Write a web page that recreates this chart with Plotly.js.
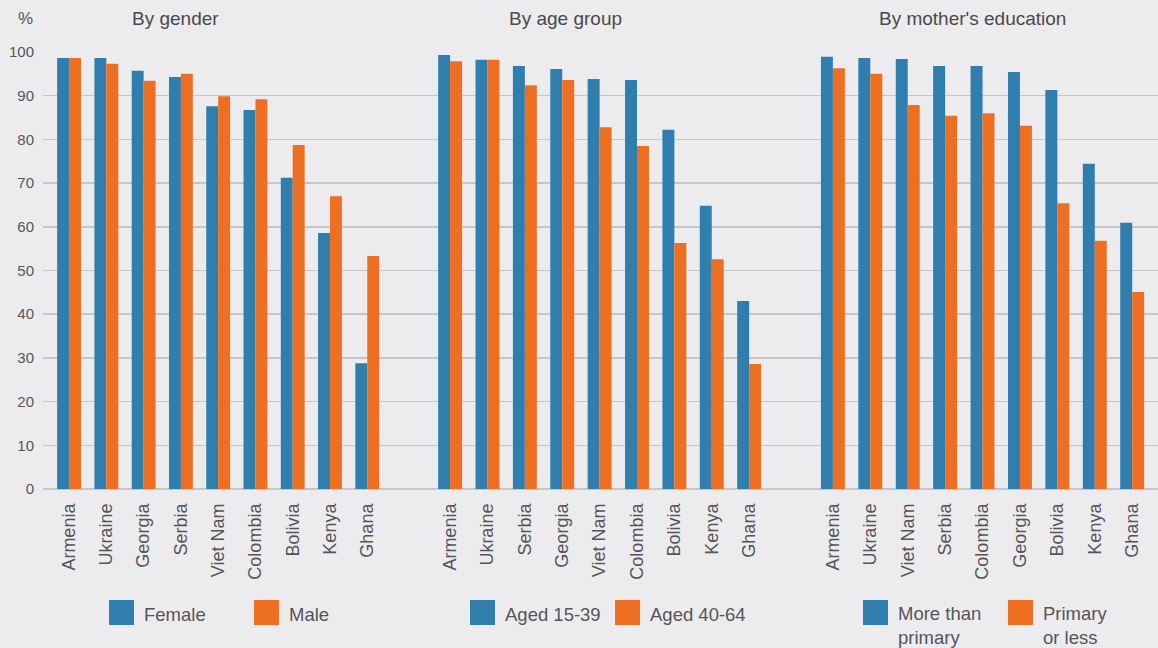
<!DOCTYPE html>
<html>
<head>
<meta charset="utf-8">
<script src="https://cdn.plot.ly/plotly-3.0.1.min.js"></script>
<style>html,body{margin:0;padding:0;background:#ececee;}#chart{width:1158px;height:648px;}</style>
</head>
<body>
<div id="chart"></div>
<script>
// ---- Data ----
const genderCountries = ["Armenia","Ukraine","Georgia","Serbia","Viet Nam","Colombia","Bolivia","Kenya","Ghana"];
const female = [98.6, 98.6, 95.7, 94.3, 87.6, 86.7, 71.2, 58.6, 28.8];
const male   = [98.6, 97.3, 93.4, 95.0, 89.9, 89.2, 78.7, 67.0, 53.3];

const ageCountries = ["Armenia","Ukraine","Serbia","Georgia","Viet Nam","Colombia","Bolivia","Kenya","Ghana"];
const aged15_39 = [99.3, 98.2, 96.8, 96.1, 93.8, 93.6, 82.2, 64.8, 43.0];
const aged40_64 = [97.9, 98.2, 92.4, 93.6, 82.8, 78.5, 56.3, 52.6, 28.6];

const eduCountries = ["Armenia","Ukraine","Viet Nam","Serbia","Colombia","Georgia","Bolivia","Kenya","Ghana"];
const moreThanPrimary = [98.9, 98.6, 98.4, 96.8, 96.8, 95.4, 91.3, 74.4, 60.9];
const primaryOrLess   = [96.3, 95.0, 87.9, 85.4, 86.0, 83.1, 65.4, 56.8, 45.1];

const panelTitles = ["By gender", "By age group", "By mother's education"];
const legendNames = [["Female","Male"],["Aged 15-39","Aged 40-64"],["More than<br>primary","Primary<br>or less"]];
const yTicks = [0,10,20,30,40,50,60,70,80,90,100];

// ---- Styling ----
const BLUE = "#2f7eae", ORANGE = "#ef6f22", BG = "#ececee", GRID = "#c6c6ca", TXT = "#555559";
const FONT = "Liberation Sans, Arial, sans-serif";
const W = 1158, H = 648, L = 43, R = 0, T = 52, B = 159;
const PW = W - L - R, PH = H - T - B;
const px = x => (x - L) / PW;
const py = y => (H - B - y) / PH;

const panels = [
  {cats: genderCountries, a: female, b: male, xa: "x"},
  {cats: ageCountries, a: aged15_39, b: aged40_64, xa: "x2"},
  {cats: eduCountries, a: moreThanPrimary, b: primaryOrLess, xa: "x3"}
];

const traces = [];
panels.forEach((p, i) => {
  traces.push({type: "bar", x: p.cats, y: p.a, xaxis: p.xa, yaxis: "y", marker: {color: BLUE}, name: legendNames[i][0].replace("<br>"," "), showlegend: false, hoverinfo: "x+y"});
  traces.push({type: "bar", x: p.cats, y: p.b, xaxis: p.xa, yaxis: "y", marker: {color: ORANGE}, name: legendNames[i][1].replace("<br>"," "), showlegend: false, hoverinfo: "x+y"});
});

const xCommon = {
  type: "category", showgrid: false, zeroline: false, showline: false, ticks: "",
  tickangle: -90, tickfont: {family: FONT, size: 18, color: TXT}, ticklabelstandoff: 10, anchor: "y", fixedrange: true
};
const layout = {
  width: W, height: H,
  margin: {l: L, r: R, t: T, b: B, pad: 0},
  paper_bgcolor: BG, plot_bgcolor: BG,
  barmode: "group", bargap: 0.36, bargroupgap: 0,
  showlegend: false,
  font: {family: FONT, color: TXT},
  xaxis:  Object.assign({}, xCommon, {domain: [0, px(409)], range: [-0.70, 9.12]}),
  xaxis2: Object.assign({}, xCommon, {domain: [px(409), px(791)], range: [-1.10, 9.12]}),
  xaxis3: Object.assign({}, xCommon, {domain: [px(791), 1], range: [-1.12, 8.69]}),
  yaxis: {
    range: [0, 100], tickvals: yTicks, showgrid: true, gridcolor: GRID, gridwidth: 1.5,
    zeroline: true, zerolinecolor: GRID, zerolinewidth: 1.5, showline: false, ticks: "",
    tickfont: {family: FONT, size: 15, color: TXT}, ticklabelstandoff: 8, fixedrange: true
  },
  annotations: [],
  shapes: []
};

// panel titles and % label
const titleX = [175, 565, 972];
panelTitles.forEach((t, i) => {
  layout.annotations.push({text: t, xref: "paper", yref: "paper", x: px(titleX[i]), y: py(18), xanchor: "center", yanchor: "middle", showarrow: false, font: {family: FONT, size: 19, color: "#49494d"}});
});
layout.annotations.push({text: "%", xref: "paper", yref: "paper", x: px(25), y: py(18), xanchor: "center", yanchor: "middle", showarrow: false, font: {family: FONT, size: 17, color: TXT}});

// legends (swatch + label) under each panel
const swatchX = [[109, 254], [470, 615], [863, 1008]];
const colors = [BLUE, ORANGE];
legendNames.forEach((names, i) => {
  names.forEach((n, j) => {
    const x0 = swatchX[i][j];
    layout.shapes.push({type: "rect", xref: "paper", yref: "paper", x0: px(x0), x1: px(x0 + 25), y0: py(625), y1: py(600), fillcolor: colors[j], line: {width: 0}});
    const twoLine = n.indexOf("<br>") >= 0;
    layout.annotations.push({text: n, xref: "paper", yref: "paper", x: px(x0 + 33), y: py(twoLine ? 625 : 614), xanchor: "left", yanchor: "middle", align: "left", showarrow: false, font: {family: FONT, size: 18.5, color: TXT}});
  });
});

Plotly.newPlot("chart", traces, layout, {displayModeBar: false, staticPlot: true});
</script>
</body>
</html>
